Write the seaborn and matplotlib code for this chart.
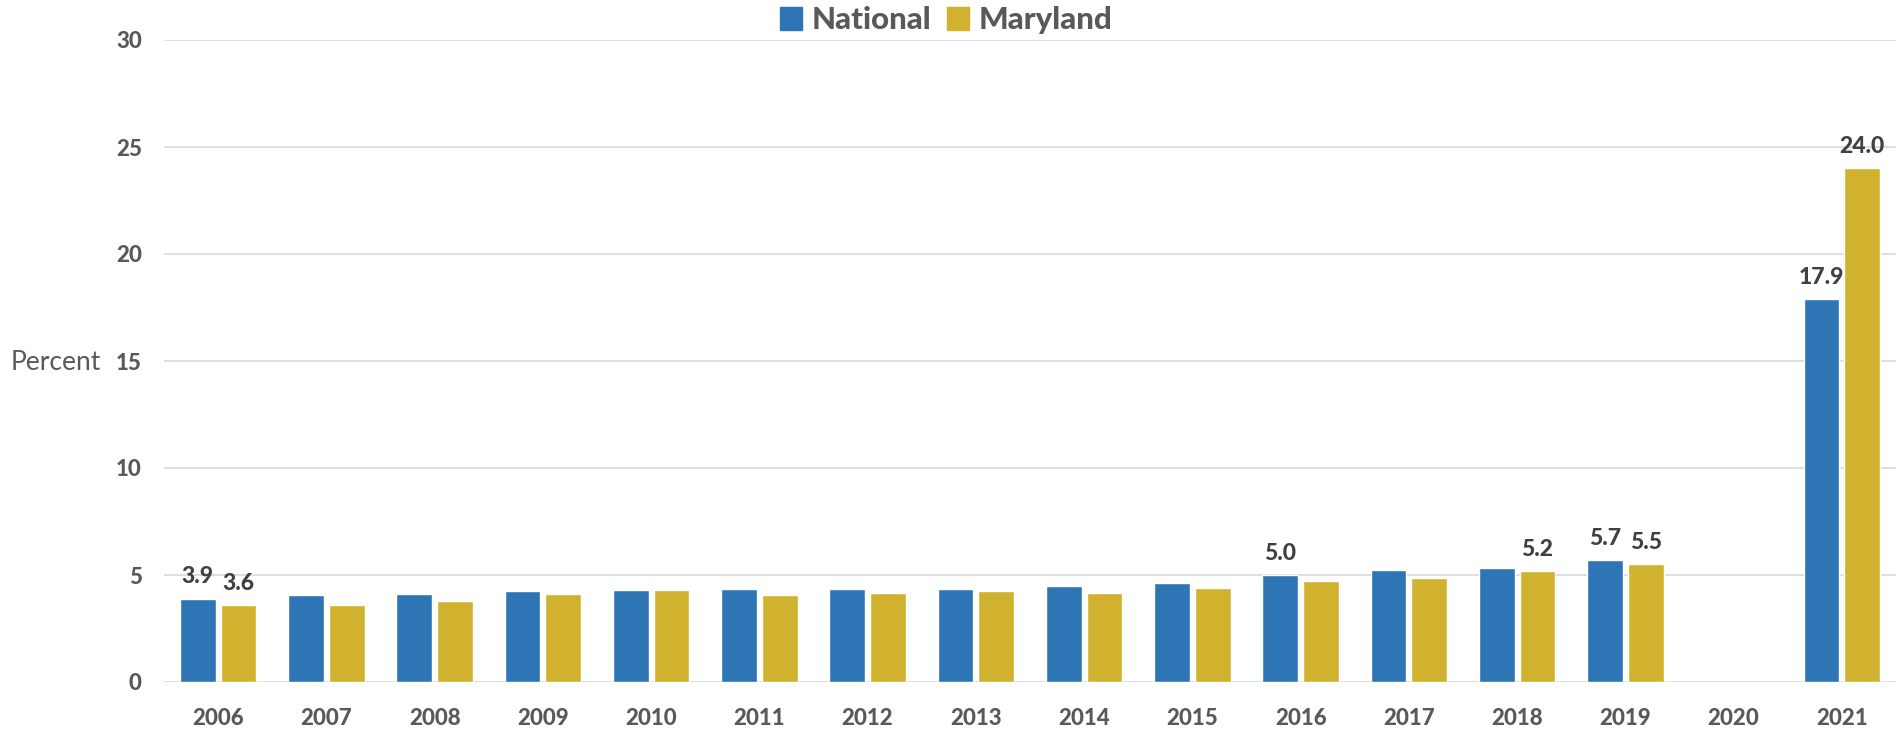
import matplotlib
matplotlib.use("Agg")
import matplotlib.pyplot as plt
import seaborn as sns
import pandas as pd
import numpy as np

years = ["2006", "2007", "2008", "2009", "2010", "2011", "2012", "2013",
         "2014", "2015", "2016", "2017", "2018", "2019", "2020", "2021"]
national = [3.9, 4.06, 4.11, 4.27, 4.31, 4.33, 4.36, 4.36,
            4.47, 4.61, 5.0, 5.23, 5.33, 5.7, np.nan, 17.9]
maryland = [3.6, 3.59, 3.80, 4.12, 4.30, 4.06, 4.17, 4.23,
            4.14, 4.39, 4.73, 4.88, 5.2, 5.5, np.nan, 24.0]
# data labels shown in the chart (year -> text)
national_labels = {"2006": "3.9", "2016": "5.0", "2019": "5.7", "2021": "17.9"}
maryland_labels = {"2006": "3.6", "2018": "5.2", "2019": "5.5", "2021": "24.0"}
series = ["National", "Maryland"]
colors = ["#2E75B6", "#D0B22F"]
y_ticks = [0, 5, 10, 15, 20, 25, 30]

sns.set_theme(style="white")
plt.rcParams["font.family"] = ["Lato", "DejaVu Sans"]
plt.rcParams["font.weight"] = "bold"

df = pd.DataFrame({
    "Year": years * 2,
    "Series": ["National"] * len(years) + ["Maryland"] * len(years),
    "Value": national + maryland,
})

W, H = 1896, 731
fig = plt.figure(figsize=(W / 100, H / 100), dpi=100)
left, right, top, bottom = 164, 1896, 40, 682
ax = fig.add_axes([left / W, (H - bottom) / H, (right - left) / W, (bottom - top) / H])

sns.barplot(data=df, x="Year", y="Value", hue="Series", order=years,
            hue_order=series, palette=colors, width=0.75, gap=0.12,
            saturation=1, errorbar=None, ax=ax, legend=True)

heavy = 900
ax.set_ylim(0, 30)
ax.set_xlim(-0.5, 15.5)
ax.set_yticks(y_ticks)
ax.set_yticklabels([str(v) for v in y_ticks], fontweight=heavy)
ax.set_xticks(range(len(years)))
ax.set_xticklabels(years, fontweight=heavy)
ax.grid(axis="y", color="#D9D9D9", linewidth=1.2)
ax.grid(axis="x", visible=False)
ax.set_axisbelow(True)
for s in ax.spines.values():
    s.set_visible(False)

ax.tick_params(axis="both", length=0, labelsize=16, labelcolor="#595959")
ax.tick_params(axis="y", pad=16)
ax.tick_params(axis="x", pad=19)

ax.set_xlabel("")
ax.set_ylabel("Percent", rotation=0, fontsize=19, color="#595959",
              fontweight="normal", ha="center", va="center")
ax.yaxis.set_label_coords((56 - left) / (right - left), (bottom - 363) / (bottom - top))

label_maps = [national_labels, maryland_labels]
for cont, lmap in zip(ax.containers, label_maps):
    labs = []
    for bar in cont:
        idx = int(round(bar.get_x() + bar.get_width() / 2))
        labs.append(lmap.get(years[idx], "") if 0 <= idx < len(years) else "")
    ax.bar_label(cont, labels=labs, padding=8, fontsize=16.5,
                 fontweight=heavy, color="#404040")

ax.get_legend().remove()
handles = [plt.Rectangle((0, 0), 1, 1, color=c) for c in colors]
leg = fig.legend(handles, series, loc="center", bbox_to_anchor=(0.499, 1 - 20 / H),
                 ncol=2, frameon=False, fontsize=22.5, handlelength=0.7,
                 handleheight=0.75, handletextpad=0.3, columnspacing=0.5,
                 borderaxespad=0, borderpad=0)
for t in leg.get_texts():
    t.set_fontweight(heavy)
    t.set_color("#595959")

fig.savefig("out.png", dpi=100)
